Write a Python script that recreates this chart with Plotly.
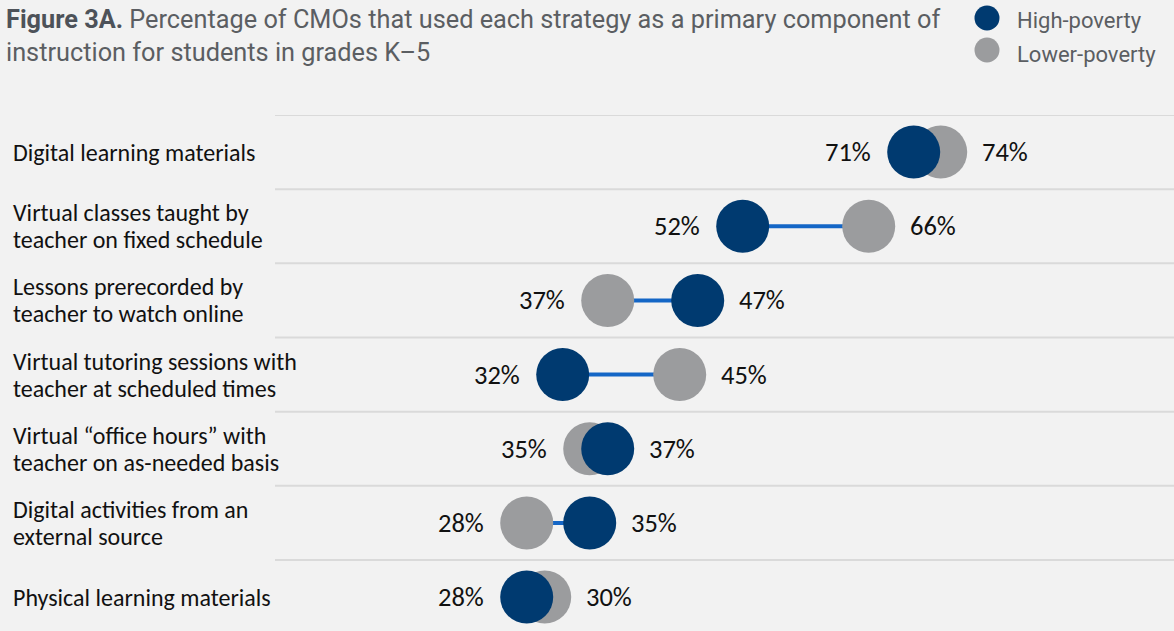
import plotly.graph_objects as go

# Strategies (top to bottom) and the share of CMOs using each one
categories = [
    "Digital learning materials",
    "Virtual classes taught by<br>teacher on fixed schedule",
    "Lessons prerecorded by<br>teacher to watch online",
    "Virtual tutoring sessions with<br>teacher at scheduled times",
    "Virtual “office hours” with<br>teacher on as-needed basis",
    "Digital activities from an<br>external source",
    "Physical learning materials",
]
high_poverty = [71, 52, 47, 32, 37, 35, 28]
lower_poverty = [74, 66, 37, 45, 35, 28, 30]

NAVY = "#003a70"
GRAY = "#9b9c9e"
LINK = "#1466c6"
BG = "#f2f2f2"
TEXT_FONT = "Carlito, Lato, sans-serif"

W, H = 1174, 631
TOP = 115
rows = list(range(len(categories)))

fig = go.Figure()

# connector between the two groups in each row
cx, cy = [], []
for i, (h, l) in enumerate(zip(high_poverty, lower_poverty)):
    cx += [h, l, None]
    cy += [i, i, None]
fig.add_trace(go.Scatter(x=cx, y=cy, mode="lines",
                         line=dict(color=LINK, width=4),
                         hoverinfo="skip", showlegend=False))

fig.add_trace(go.Scatter(x=lower_poverty, y=rows, mode="markers",
                         marker=dict(size=53, color=GRAY),
                         name="Lower-poverty", showlegend=False))
fig.add_trace(go.Scatter(x=high_poverty, y=rows, mode="markers",
                         marker=dict(size=53, color=NAVY),
                         name="High-poverty", showlegend=False))

annotations = []
shapes = []

# row separators
for i in rows:
    shapes.append(dict(type="line", xref="paper", yref="y",
                       x0=275 / W, x1=1, y0=i - 0.5, y1=i - 0.5,
                       line=dict(color="#dadada", width=2), layer="below"))

LINE_GAP = 27  # px between the two lines of a wrapped label
for i, (cat, h, l) in enumerate(zip(categories, high_poverty, lower_poverty)):
    parts = cat.split("<br>")
    n = len(parts)
    for k, part in enumerate(parts):
        annotations.append(dict(xref="paper", yref="y", x=11 / W, y=i,
                                text=part, showarrow=False, xanchor="left",
                                yanchor="middle",
                                yshift=((n - 1) / 2 - k) * LINE_GAP,
                                font=dict(family=TEXT_FONT, size=24, color="#111111")))
    lo, hi = min(h, l), max(h, l)
    annotations.append(dict(xref="x", yref="y", x=lo, y=i, text=f"{lo}%",
                            showarrow=False, xanchor="right", xshift=-41,
                            font=dict(family=TEXT_FONT, size=26.5, color="#111111")))
    annotations.append(dict(xref="x", yref="y", x=hi, y=i, text=f"{hi}%",
                            showarrow=False, xanchor="left", xshift=39,
                            font=dict(family=TEXT_FONT, size=26.5, color="#111111")))

plot_h = H - TOP


def py(pix):
    return (H - pix) / plot_h


# title
annotations.append(dict(
    xref="paper", yref="paper", x=4 / W, y=py(3), xanchor="left", yanchor="top",
    align="left", showarrow=False,
    text="<b style='color:#4d5259'>Figure 3A.</b> Percentage of CMOs that used each strategy as a primary component of"
         "<br>instruction for students in grades K–5",
    font=dict(family="Roboto", size=25.3, color="#5b5e62")))

# legend
for label, color, ypix, tpix in [("High-poverty", NAVY, 18, 21),
                                 ("Lower-poverty", GRAY, 50, 54)]:
    shapes.append(dict(type="circle", xref="paper", yref="paper",
                       xsizemode="pixel", ysizemode="pixel",
                       xanchor=987 / W, yanchor=py(ypix),
                       x0=-12.5, x1=12.5, y0=-12.5, y1=12.5,
                       fillcolor=color, line=dict(width=0)))
    annotations.append(dict(xref="paper", yref="paper", x=1015 / W, y=py(tpix),
                            xanchor="left", yanchor="middle", showarrow=False,
                            text=label,
                            font=dict(family="Roboto", size=22, color="#5b5e62")))

fig.update_layout(
    width=W, height=H,
    margin=dict(l=0, r=0, t=TOP, b=0),
    paper_bgcolor=BG, plot_bgcolor=BG,
    xaxis=dict(domain=[274.7 / W, 1], range=[0, 99.92], visible=False, fixedrange=True),
    yaxis=dict(range=[6.457, -0.5], visible=False, fixedrange=True),
    annotations=annotations, shapes=shapes,
    showlegend=False,
)

fig.write_html("out.html")
